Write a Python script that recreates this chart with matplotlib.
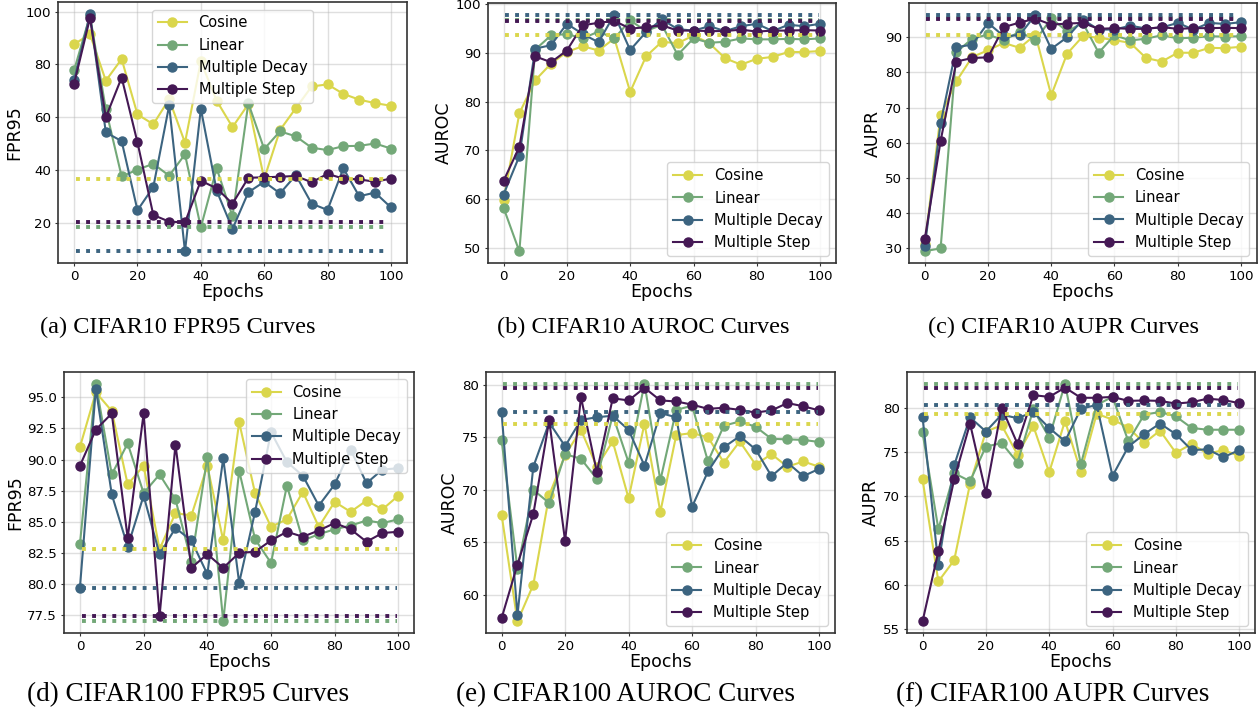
import matplotlib.pyplot as plt

# epocas (eixo x)
epocas = [0, 5, 10, 15, 20, 25, 30, 35, 40, 45, 50, 55, 60, 65, 70, 75, 80, 85, 90, 95, 100]
nomes = ['Cosine', 'Linear', 'Multiple Decay', 'Multiple Step']
cores = ['#dad64c', '#73a878', '#3c6480', '#441854']

# CIFAR10
c10_fpr_cosine = [87.6, 91.4, 73.8, 82.0, 61.0, 57.3, 66.8, 50.3, 81.1, 66.2, 56.2, 64.9, 36.6, 55.1, 63.4, 71.6, 72.4, 68.8, 66.6, 65.3, 64.3]
c10_fpr_linear = [77.8, 98.4, 63.0, 37.5, 40.1, 42.3, 37.8, 45.9, 18.2, 40.6, 22.4, 65.3, 47.9, 54.6, 52.7, 48.4, 47.5, 49.0, 49.1, 50.0, 48.1]
c10_fpr_decay = [74.0, 99.0, 54.2, 50.9, 24.7, 33.5, 64.4, 9.1, 63.2, 32.1, 17.6, 31.5, 35.5, 31.1, 38.0, 27.2, 24.8, 40.6, 30.0, 31.4, 25.8]
c10_fpr_step = [72.7, 97.5, 59.9, 75.0, 50.4, 22.9, 20.4, 20.1, 35.9, 33.0, 27.2, 37.0, 37.2, 37.4, 37.7, 35.3, 38.5, 36.7, 36.4, 35.5, 36.7]

c10_auroc_cosine = [59.7, 77.6, 84.4, 87.8, 90.2, 91.4, 90.5, 93.0, 82.0, 89.3, 92.3, 92.0, 93.6, 92.0, 88.9, 87.6, 88.8, 89.2, 90.2, 90.2, 90.4]
c10_auroc_linear = [58.2, 49.2, 90.7, 93.6, 93.9, 93.0, 94.4, 93.0, 96.7, 94.5, 95.8, 89.6, 93.0, 92.1, 92.3, 93.0, 92.8, 92.8, 92.9, 92.8, 93.0]
c10_auroc_decay = [60.9, 68.8, 90.9, 91.6, 96.0, 93.9, 92.2, 97.9, 90.6, 94.3, 96.9, 94.9, 94.6, 95.5, 94.5, 95.5, 96.0, 94.5, 95.8, 95.5, 96.0]
c10_auroc_step = [63.7, 70.7, 89.3, 88.1, 90.5, 95.7, 96.2, 96.6, 95.0, 95.3, 95.7, 94.6, 94.6, 94.5, 94.5, 94.8, 94.4, 94.6, 94.6, 94.7, 94.6]

c10_aupr_cosine = [31.2, 67.8, 77.5, 84.4, 86.3, 88.4, 87.0, 90.7, 73.5, 85.3, 90.3, 89.9, 89.2, 88.4, 84.1, 83.1, 85.6, 85.6, 87.0, 86.9, 87.3]
c10_aupr_linear = [29.1, 29.9, 85.8, 89.6, 90.8, 89.1, 91.6, 89.1, 95.4, 91.7, 94.1, 85.6, 90.6, 89.1, 89.6, 90.6, 89.7, 89.9, 90.3, 90.2, 90.3]
c10_aupr_decay = [30.5, 65.5, 87.2, 87.9, 94.1, 90.3, 90.6, 96.4, 86.7, 90.0, 95.0, 92.2, 92.2, 93.3, 92.5, 92.8, 94.1, 92.2, 94.1, 93.8, 94.3]
c10_aupr_step = [32.6, 60.5, 83.1, 84.1, 84.3, 92.9, 94.2, 95.3, 93.6, 93.9, 94.1, 92.4, 92.6, 92.4, 92.4, 92.9, 92.4, 92.6, 92.6, 92.7, 92.6]

# CIFAR100
c100_fpr_cosine = [91.0, 95.4, 93.9, 88.0, 89.5, 82.8, 85.7, 85.5, 89.5, 83.5, 93.0, 87.3, 84.6, 85.2, 87.4, 84.6, 86.6, 85.8, 86.7, 86.0, 87.1]
c100_fpr_linear = [83.2, 96.1, 88.8, 91.3, 87.3, 88.8, 86.8, 81.8, 90.2, 77.0, 89.1, 83.6, 81.7, 87.9, 83.5, 84.0, 84.4, 84.7, 85.1, 84.9, 85.2]
c100_fpr_decay = [79.7, 95.7, 87.2, 83.0, 87.1, 82.4, 84.5, 83.5, 80.8, 90.1, 80.1, 85.8, 92.2, 89.8, 88.7, 86.3, 88.0, 90.8, 88.1, 89.2, 89.3]
c100_fpr_step = [89.5, 92.4, 93.7, 83.7, 93.7, 77.4, 91.2, 81.3, 82.4, 81.3, 82.5, 82.6, 83.5, 84.2, 83.8, 84.3, 84.9, 84.4, 83.4, 84.1, 84.2]

c100_auroc_cosine = [67.65, 57.5, 61.0, 69.5, 73.3, 75.7, 72.2, 74.6, 69.2, 76.3, 67.9, 75.2, 75.4, 75.0, 72.6, 74.6, 72.4, 73.4, 72.2, 72.7, 72.2]
c100_auroc_linear = [74.75, 62.5, 70.0, 68.75, 73.4, 72.95, 71.05, 77.1, 72.6, 80.1, 70.9, 77.6, 78.0, 72.7, 76.1, 76.5, 76.0, 74.85, 74.8, 74.75, 74.55]
c100_auroc_decay = [77.4, 58.1, 72.2, 76.4, 74.15, 76.65, 76.9, 77.05, 75.7, 72.3, 77.3, 76.9, 68.4, 71.75, 74.05, 75.1, 73.85, 71.3, 72.6, 71.3, 72.0]
c100_auroc_step = [57.8, 62.9, 67.7, 76.6, 65.15, 78.8, 71.7, 78.7, 78.5, 79.7, 78.5, 78.4, 78.1, 77.7, 77.8, 77.6, 77.35, 77.55, 78.25, 77.95, 77.55]

c100_aupr_cosine = [71.9, 60.4, 62.8, 71.4, 77.3, 78.0, 74.7, 77.9, 72.7, 78.5, 72.75, 79.3, 78.65, 77.75, 76.0, 77.4, 74.9, 75.9, 74.8, 75.2, 74.55]
c100_aupr_linear = [77.2, 66.3, 72.6, 71.7, 75.6, 76.0, 73.8, 79.8, 76.6, 82.7, 73.6, 80.3, 81.2, 76.2, 79.2, 79.5, 79.0, 77.7, 77.5, 77.5, 77.5]
c100_aupr_decay = [78.95, 62.3, 73.5, 78.9, 77.3, 79.2, 78.8, 79.5, 77.7, 76.2, 79.85, 80.3, 72.3, 75.6, 77.0, 78.2, 77.0, 75.2, 75.3, 74.4, 75.2]
c100_aupr_step = [55.9, 63.8, 71.9, 78.2, 70.4, 80.0, 75.9, 81.4, 81.2, 82.25, 81.1, 81.1, 81.2, 80.75, 80.8, 80.75, 80.45, 80.6, 81.0, 80.85, 80.5]

legendas = ['(a) CIFAR10 FPR95 Curves', '(b) CIFAR10 AUROC Curves', '(c) CIFAR10 AUPR Curves',
            '(d) CIFAR100 FPR95 Curves', '(e) CIFAR100 AUROC Curves', '(f) CIFAR100 AUPR Curves']

paineis = [
    ('FPR95', [c10_fpr_cosine, c10_fpr_linear, c10_fpr_decay, c10_fpr_step], 'upper center'),
    ('AUROC', [c10_auroc_cosine, c10_auroc_linear, c10_auroc_decay, c10_auroc_step], 'lower right'),
    ('AUPR', [c10_aupr_cosine, c10_aupr_linear, c10_aupr_decay, c10_aupr_step], 'lower right'),
    ('FPR95', [c100_fpr_cosine, c100_fpr_linear, c100_fpr_decay, c100_fpr_step], 'upper right'),
    ('AUROC', [c100_auroc_cosine, c100_auroc_linear, c100_auroc_decay, c100_auroc_step], 'lower right'),
    ('AUPR', [c100_aupr_cosine, c100_aupr_linear, c100_aupr_decay, c100_aupr_step], 'lower right'),
]

# posicao dos eixos em pixels: esquerda, direita, topo, base
caixas = [(58.3, 406.7, 2.3, 263.3), (487.7, 836, 2.7, 263.3), (909, 1256.7, 3, 263),
          (64, 414.3, 371.7, 633.3), (485.7, 835, 371.7, 633.3), (906.7, 1255, 371.7, 633.3)]
centros_legenda = [(178, 327), (643, 327), (1063, 327), (188, 695), (626, 695), (1053, 695)]
tamanhos_legenda = [17.5, 17.5, 17.5, 19.5, 19.5, 19.5]

W, H = 1260, 713
fig = plt.figure(figsize=(W / 100, H / 100), dpi=100)

for i, (metrica, series, loc) in enumerate(paineis):
    l, r, t, b = caixas[i]
    ax = fig.add_axes([l / W, 1 - b / H, (r - l) / W, (b - t) / H])
    for nome, cor, valores in zip(nomes, cores, series):
        ax.plot(epocas, valores, '-o', color=cor, label=nome, lw=1.5, ms=6.5)
    # linha pontilhada com o melhor valor de cada serie
    for cor, valores in zip(cores, series):
        melhor = min(valores) if metrica == 'FPR95' else max(valores)
        ax.axhline(melhor, xmin=0.05, xmax=0.95, color=cor, linestyle=(0, (1, 1.6)), lw=2.8)
    ax.set_xlabel('Epochs', fontsize=12.5, labelpad=0)
    ax.set_ylabel(metrica, fontsize=12.5, labelpad=2)
    ax.tick_params(labelsize=9.6, color='#333333', length=2.5, pad=2.5)
    ax.grid(True, color='#b0b0b0', alpha=0.4, lw=1)
    for s in ax.spines.values():
        s.set_color('#333333')
        s.set_linewidth(1.2)
    ax.legend(loc=loc, fontsize=10.5)
    cx, cy = centros_legenda[i]
    fig.text(cx / W, 1 - cy / H, legendas[i], ha='center', va='center',
             fontsize=tamanhos_legenda[i], family='Liberation Serif')

plt.savefig('out.png', dpi=100)
